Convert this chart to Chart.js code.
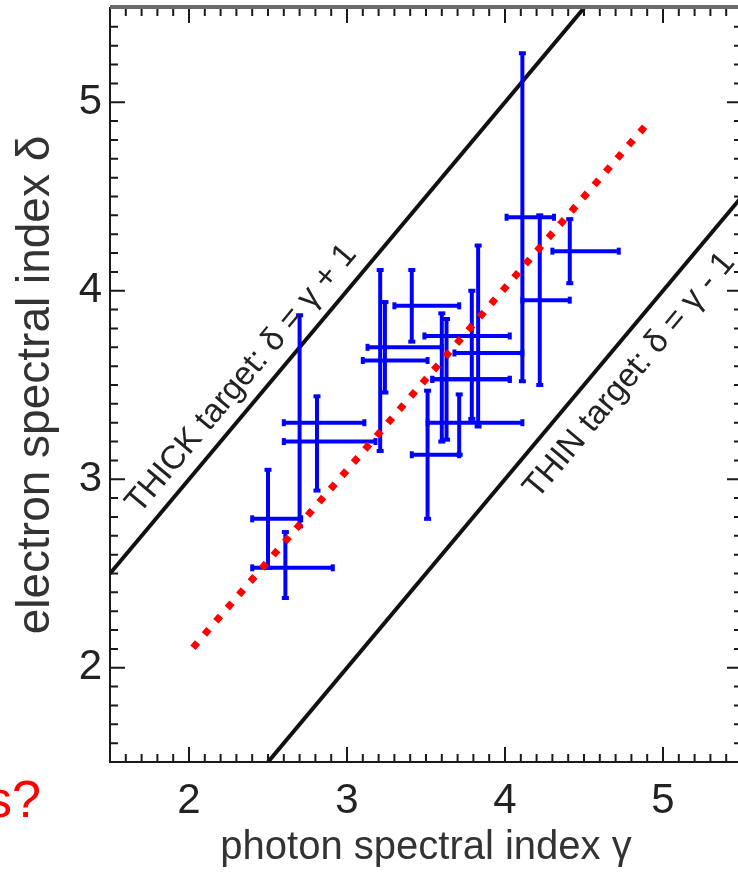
<!DOCTYPE html>
<html>
<head>
<meta charset="utf-8">
<script src="https://cdn.jsdelivr.net/npm/chart.js@4.4.1/dist/chart.umd.min.js"></script>
<style>
  html, body { margin: 0; padding: 0; background: #fff; overflow: hidden; }
  #wrap { position: relative; width: 738px; height: 878px; overflow: hidden; }
  canvas { position: absolute; left: 0; top: 0; }
</style>
</head>
<body>
<div id="wrap"><canvas id="chart" width="760" height="878"></canvas></div>
<script>
// photon spectral index per flare: centre, lower and upper end of the bar
const gamma   = [2.50, 2.61, 2.70, 2.81, 3.21, 3.24, 3.41, 3.51, 3.60, 3.63, 3.71, 3.79, 3.83, 4.11, 4.22, 4.41];
const gammaLo = [2.40, 2.40, 2.60, 2.60, 3.10, 3.13, 3.30, 3.41, 3.54, 3.54, 3.51, 3.68, 3.49, 4.01, 4.11, 4.30];
const gammaHi = [2.71, 2.91, 3.11, 3.18, 3.51, 3.60, 3.71, 3.71, 4.03, 4.03, 4.11, 4.11, 4.03, 4.31, 4.41, 4.72];
// electron spectral index per flare
const delta   = [2.79, 2.53, 3.30, 3.20, 3.63, 3.70, 3.92, 3.13, 3.53, 3.53, 3.30, 3.67, 3.76, 4.39, 3.95, 4.21];
const deltaLo = [2.53, 2.37, 2.75, 2.94, 3.15, 3.46, 3.73, 2.79, 3.20, 3.21, 3.13, 3.32, 3.28, 3.52, 3.50, 4.04];
const deltaHi = [3.05, 2.72, 3.87, 3.44, 4.11, 3.94, 4.11, 3.47, 3.88, 3.85, 3.45, 4.00, 4.24, 5.26, 4.40, 4.38];

// model lines and the fitted trend (end points)
const thickLine = [[1.5, 2.5], [4.5, 5.5]];
const thinLine  = [[2.5, 1.5], [5.5, 4.5]];
const fitLine   = [[2.025, 2.106], [4.886, 4.872]];

const axisMin = 1.5, axisMax = 5.5;
const tickVals = [2, 3, 4, 5];

const FONT = '"Liberation Sans", Arial, Helvetica, sans-serif';
const BLUE = '#0000ff';

const toPts = arr => arr.map(p => ({x: p[0], y: p[1]}));

const datasets = [];

datasets.push({
  data: toPts(fitLine), showLine: true, borderColor: '#ff0000', borderWidth: 7,
  borderDash: [7, 10.5], borderCapStyle: 'butt', pointRadius: 0, order: 0
});

gamma.forEach((g, i) => {
  // horizontal bar with end caps
  datasets.push({
    data: [{x: gammaLo[i], y: delta[i]}, {x: gammaHi[i], y: delta[i]}],
    showLine: true, borderColor: BLUE, borderWidth: 4,
    pointStyle: 'line', rotation: 90, pointRadius: 3.5,
    pointBorderColor: BLUE, pointBorderWidth: 4, order: 1
  });
  // vertical bar with end caps
  datasets.push({
    data: [{x: g, y: deltaLo[i]}, {x: g, y: deltaHi[i]}],
    showLine: true, borderColor: BLUE, borderWidth: 4,
    pointStyle: 'line', rotation: 0, pointRadius: 3.5,
    pointBorderColor: BLUE, pointBorderWidth: 4, order: 1
  });
});

[thickLine, thinLine].forEach(l => datasets.push({
  data: toPts(l), showLine: true, borderColor: '#111', borderWidth: 4,
  pointRadius: 0, order: 2
}));

// labels written along the two model lines
const lineNotes = [
  {text: 'THICK target: \u03b4 = \u03b3 + 1', at: 1.76, line: thickLine, shift: -15},
  {text: 'THIN target: \u03b4 = \u03b3 - 1', at: 4.02, line: thinLine, shift: 38}
];

const lineLabels = {
  id: 'lineLabels',
  afterDatasetsDraw(chart) {
    const {ctx, scales: {x, y}} = chart;
    lineNotes.forEach(n => {
      const [p0, p1] = n.line;
      const k = (p1[1] - p0[1]) / (p1[0] - p0[0]);
      const gy = p0[1] + (n.at - p0[0]) * k;
      const x0 = x.getPixelForValue(n.at), y0 = y.getPixelForValue(gy);
      const ang = Math.atan2(y.getPixelForValue(p1[1]) - y.getPixelForValue(p0[1]),
                             x.getPixelForValue(p1[0]) - x.getPixelForValue(p0[0]));
      ctx.save();
      ctx.translate(x0, y0);
      ctx.rotate(ang);
      ctx.font = '33px ' + FONT;
      ctx.fillStyle = '#222';
      ctx.textBaseline = 'alphabetic';
      ctx.fillText(n.text, 0, n.shift);
      ctx.restore();
    });
    // leftover of the slide heading
    ctx.save();
    ctx.font = '52px ' + FONT;
    ctx.fillStyle = '#ff0000';
    ctx.textAlign = 'right';
    ctx.fillText('s?', 41, 817);
    ctx.restore();
  }
};

// box with inward major/minor ticks on all four sides
const frameTicks = {
  id: 'frameTicks',
  afterDatasetsDraw(chart) {
    const {ctx, chartArea: a, scales: {x, y}} = chart;
    ctx.save();
    ctx.strokeStyle = '#1a1a1a';
    ctx.lineWidth = 2;
    ctx.beginPath();
    for (let i = axisMin * 10; i <= axisMax * 10; i++) {
      const v = i / 10;
      const len = i % 10 === 0 ? 15 : 8;
      const px = x.getPixelForValue(v), py = y.getPixelForValue(v);
      ctx.moveTo(px, a.bottom); ctx.lineTo(px, a.bottom - len);
      ctx.moveTo(px, a.top); ctx.lineTo(px, a.top + len);
      ctx.moveTo(a.left, py); ctx.lineTo(a.left + len, py);
      ctx.moveTo(a.right, py); ctx.lineTo(a.right - len, py);
    }
    ctx.stroke();
    ctx.strokeRect(a.left, a.top, a.right - a.left, a.bottom - a.top);
    ctx.strokeStyle = '#6a6a6a';
    ctx.lineWidth = 4;
    ctx.beginPath();
    ctx.moveTo(a.left, a.top - 1); ctx.lineTo(a.right, a.top - 1);
    ctx.stroke();
    ctx.restore();
  }
};

const setTicks = s => { s.ticks = tickVals.map(v => ({value: v})); };
// fixed axis boxes, and no extra room reserved for the edge labels
const fitBox = (w, h) => s => {
  if (w) s.width = w;
  if (h) s.height = h;
  s.paddingTop = s.paddingBottom = s.paddingLeft = s.paddingRight = 0;
};

new Chart(document.getElementById('chart'), {
  type: 'scatter',
  data: {datasets},
  options: {
    responsive: false,
    animation: false,
    layout: {padding: {top: 7, right: 18, left: 0, bottom: 0}},
    plugins: {legend: {display: false}, tooltip: {enabled: false}},
    scales: {
      x: {
        type: 'linear', min: axisMin, max: axisMax,
        grid: {display: false, drawTicks: false}, border: {display: false},
        afterBuildTicks: setTicks,
        ticks: {padding: 14, color: '#222', font: {family: FONT, size: 42}},
        title: {display: true, text: 'photon spectral index \u03b3', color: '#333',
                font: {family: FONT, size: 40}, padding: {top: 0, bottom: 6}},
        afterFit: fitBox(0, 116)
      },
      y: {
        type: 'linear', min: axisMin, max: axisMax,
        grid: {display: false, drawTicks: false}, border: {display: false},
        afterBuildTicks: setTicks,
        ticks: {padding: 8, color: '#222', font: {family: FONT, size: 42}},
        title: {display: true, text: 'electron spectral index \u03b4', color: '#333',
                font: {family: FONT, size: 46}, padding: {top: 9, bottom: 0}},
        afterFit: fitBox(110, 0)
      }
    }
  },
  plugins: [frameTicks, lineLabels]
});
</script>
</body>
</html>
